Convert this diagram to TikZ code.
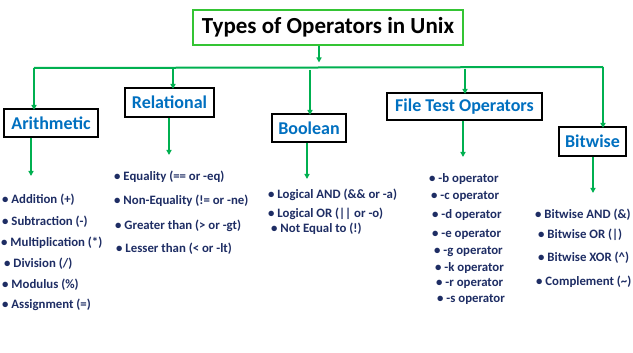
\documentclass[tikz,border=0pt]{standalone}
\usepackage{fontspec}
\setmainfont{Carlito}
\usetikzlibrary{arrows.meta}
\definecolor{arrowgreen}{RGB}{0,176,80}
\definecolor{titlegreen}{RGB}{52,196,52}
\definecolor{headblue}{RGB}{0,112,192}
\definecolor{itemnavy}{RGB}{30,45,100}
\tikzset{
  titlebox/.style={draw=titlegreen, line width=2pt, inner sep=0pt, minimum width=270pt, minimum height=35pt, font=\fontsize{23}{26}\selectfont\bfseries, text=black},
  catbox/.style={draw=black, line width=2pt, inner sep=0pt, font=\fontsize{18}{21}\selectfont\bfseries, text=headblue},
  item/.style={anchor=west, inner sep=0pt, font=\fontsize{12.8}{14}\selectfont\bfseries, text=itemnavy},
  bus/.style={draw=arrowgreen, line width=2pt},
  garrow/.style={draw=arrowgreen, line width=1.6pt, -{Triangle[length=5pt,width=5pt]}},
}
\begin{document}
\begin{tikzpicture}[x=1pt,y=-1pt]
\useasboundingbox (0,0) rectangle (633,353);
\fill[white] (0,0) rectangle (633,353);
% title
\node[titlebox] (title) at (328,27.5) {Types of Operators in Unix};
% category boxes
\node[catbox, minimum width=94pt, minimum height=28pt] (arith) at (51,123) {Arithmetic};
\node[catbox, minimum width=89pt, minimum height=29pt] (rel) at (169.5,102.5) {Relational};
\node[catbox, minimum width=74pt, minimum height=28pt] (bool) at (309,128) {Boolean};
\node[catbox, minimum width=155pt, minimum height=27pt] (file) at (464.5,106.5) {File Test Operators};
\node[catbox, minimum width=67pt, minimum height=29pt] (bit) at (592.5,141.5) {Bitwise};
% bus
\coordinate (tt) at (319,62.5);
\coordinate (bl) at (34,68);
\coordinate (br) at (603,67);
\draw[garrow] (title.south -| tt) -- (tt);
\draw[bus] (bl) -- (br);
\coordinate (ba) at (34,68);
\coordinate (br2) at (173,68);
\coordinate (bb) at (310,70);
\coordinate (bf) at (465,69);
\coordinate (bw) at (603,67);
\draw[garrow] (ba) -- ([yshift=-2pt]ba |- arith.north);
\draw[garrow] (br2) -- ([yshift=-2pt]br2 |- rel.north);
\draw[garrow] (bb) -- ([yshift=-2pt]bb |- bool.north);
\draw[garrow] (bf) -- ([yshift=-2pt]bf |- file.north);
\draw[garrow] (bw) -- ([yshift=-2pt]bw |- bit.north);
% items
\node[item] (a1) at (2,200) {• Addition (+)};
\node[item] (a2) at (2,222) {• Subtraction (-)};
\node[item] (a3) at (1,243) {• Multiplication (*)};
\node[item] (a4) at (4,264) {• Division (/)};
\node[item] (a5) at (2,285) {• Modulus (\%)};
\node[item] (a6) at (2,305) {• Assignment (=)};
\node[item] (r1) at (114,177) {• Equality (== or -eq)};
\node[item] (r2) at (114,201) {• Non-Equality (!= or -ne)};
\node[item] (r3) at (115,226) {• Greater than (> or -gt)};
\node[item] (r4) at (116,249) {• Lesser than (< or -lt)};
\node[item] (o1) at (268,195) {• Logical AND (\&\& or -a)};
\node[item] (o2) at (268,214) {• Logical OR (||~or -o)};
\node[item] (o3) at (271,229) {• Not Equal to (!)};
\node[item] (f1) at (429,179) {• -b operator};
\node[item] (f2) at (431,196) {• -c operator};
\node[item] (f3) at (432,215) {• -d operator};
\node[item] (f4) at (432,234) {• -e operator};
\node[item] (f5) at (434,252) {• -g operator};
\node[item] (f6) at (435,268) {• -k operator};
\node[item] (f7) at (436,283) {• -r operator};
\node[item] (f8) at (437,299) {• -s operator};
\node[item] (w1) at (535,215) {• Bitwise AND (\&)};
\node[item] (w2) at (538,235) {• Bitwise OR (|)};
\node[item] (w3) at (538,258) {• Bitwise XOR (\^{})};
\node[item] (w4) at (536,282) {• Complement (\~{})};
% down arrows
\coordinate (da) at (31,176);
\coordinate (dr) at (169,155);
\coordinate (db) at (307,179);
\coordinate (df) at (463,157);
\coordinate (dw) at (593,193);
\draw[garrow] (arith.south -| da) -- (da);
\draw[garrow] (rel.south -| dr) -- (dr);
\draw[garrow] (bool.south -| db) -- (db);
\draw[garrow] (file.south -| df) -- (df);
\draw[garrow] (bit.south -| dw) -- (dw);
\end{tikzpicture}
\end{document}
